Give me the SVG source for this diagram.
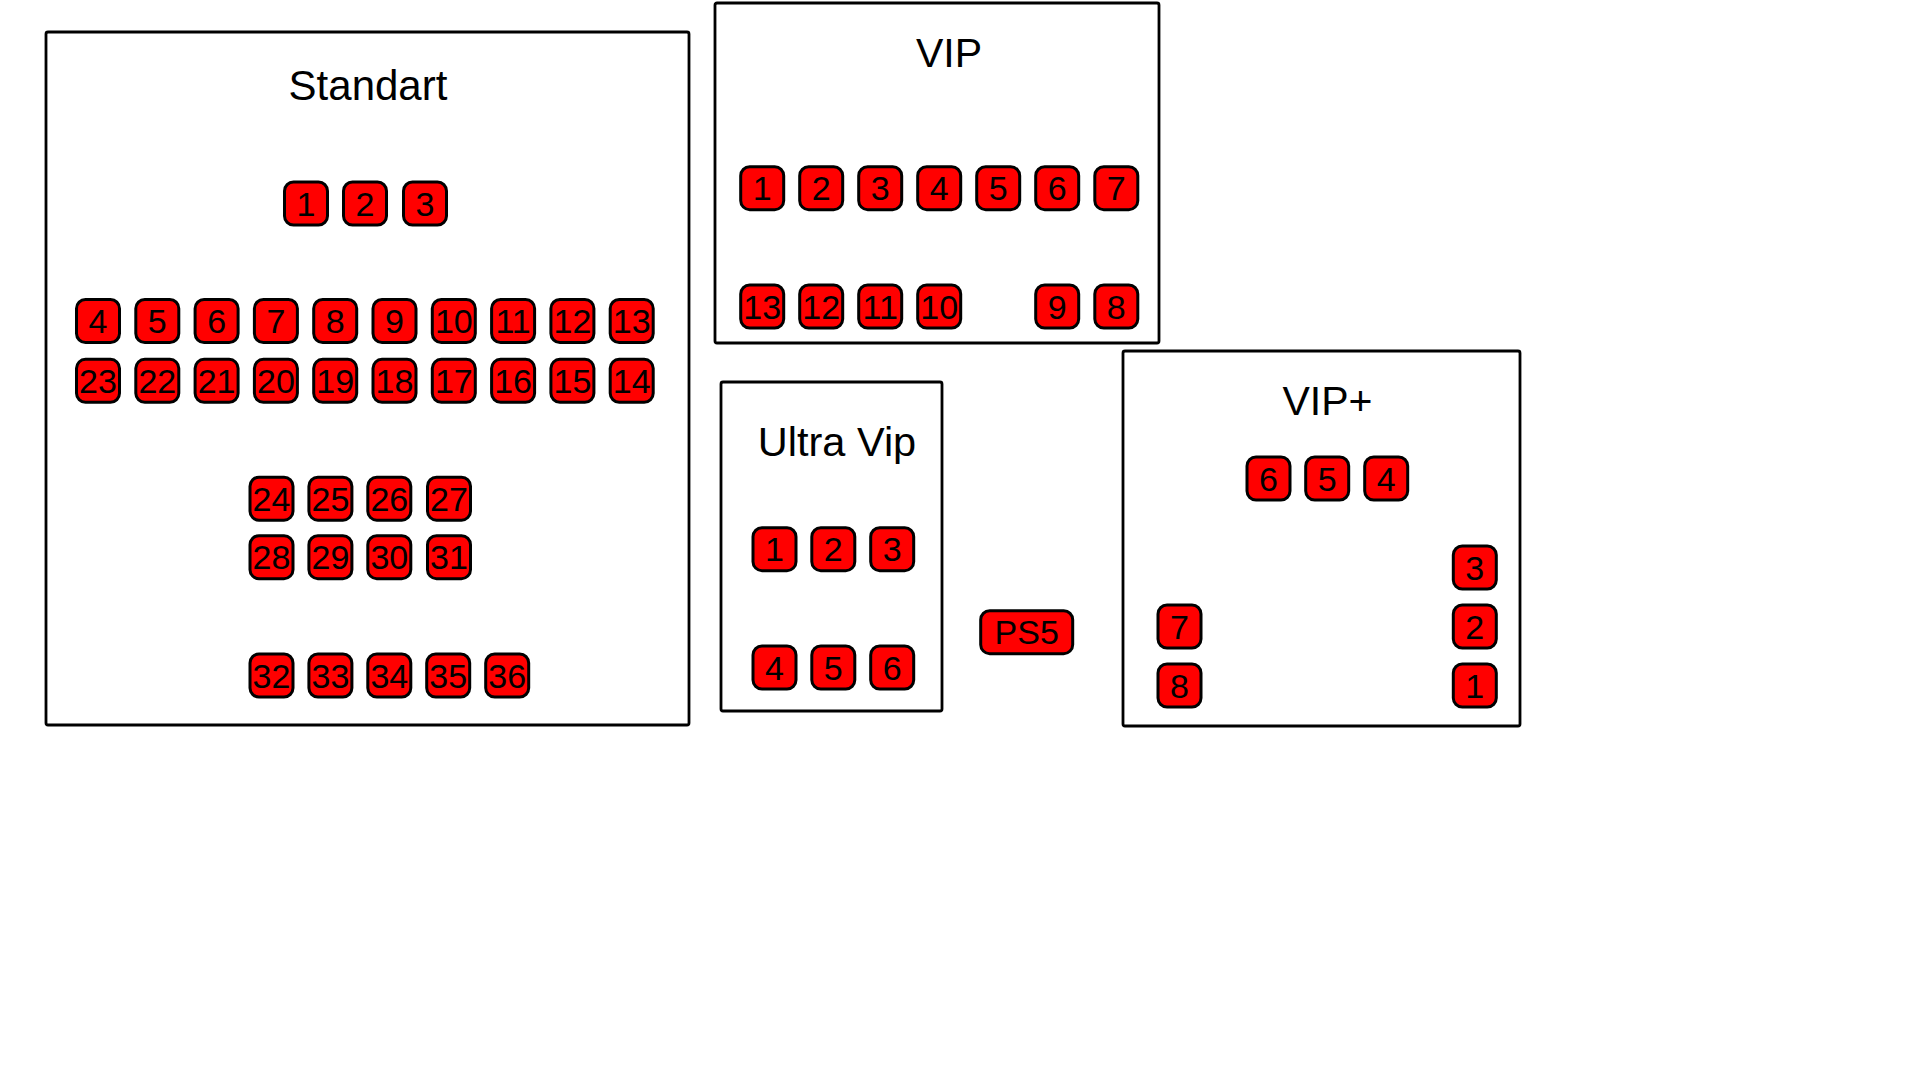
<svg xmlns="http://www.w3.org/2000/svg" width="1920" height="1080" viewBox="0 0 1920 1080">
<style>
.zone{fill:#fff;stroke:#000;stroke-width:2.8}
.title{font-family:"Liberation Sans",Arial,sans-serif;font-size:41px;text-anchor:middle;fill:#000}
.seat rect{fill:#f00;stroke:#000;stroke-width:3}
.seat text{font-family:"Liberation Sans",Arial,sans-serif;font-size:34px;text-anchor:middle;fill:#000}
</style>
<rect width="1920" height="1080" fill="#fff"/>
<g id="zone-standart">
<rect class="zone" x="46" y="32" width="643" height="693" rx="2"/>
<text class="title" x="368" y="100" style="font-size:42px">Standart</text>
<g id="std-1" class="seat" transform="translate(306,203.5)"><rect x="-21.5" y="-21.5" width="43" height="43" rx="9"/><text y="12.2">1</text></g>
<g id="std-2" class="seat" transform="translate(365,203.5)"><rect x="-21.5" y="-21.5" width="43" height="43" rx="9"/><text y="12.2">2</text></g>
<g id="std-3" class="seat" transform="translate(425,203.5)"><rect x="-21.5" y="-21.5" width="43" height="43" rx="9"/><text y="12.2">3</text></g>
<g id="std-4" class="seat" transform="translate(98,321)"><rect x="-21.5" y="-21.5" width="43" height="43" rx="9"/><text y="12.2">4</text></g>
<g id="std-5" class="seat" transform="translate(157.3,321)"><rect x="-21.5" y="-21.5" width="43" height="43" rx="9"/><text y="12.2">5</text></g>
<g id="std-6" class="seat" transform="translate(216.6,321)"><rect x="-21.5" y="-21.5" width="43" height="43" rx="9"/><text y="12.2">6</text></g>
<g id="std-7" class="seat" transform="translate(275.9,321)"><rect x="-21.5" y="-21.5" width="43" height="43" rx="9"/><text y="12.2">7</text></g>
<g id="std-8" class="seat" transform="translate(335.2,321)"><rect x="-21.5" y="-21.5" width="43" height="43" rx="9"/><text y="12.2">8</text></g>
<g id="std-9" class="seat" transform="translate(394.5,321)"><rect x="-21.5" y="-21.5" width="43" height="43" rx="9"/><text y="12.2">9</text></g>
<g id="std-10" class="seat" transform="translate(453.8,321)"><rect x="-21.5" y="-21.5" width="43" height="43" rx="9"/><text y="12.2">10</text></g>
<g id="std-11" class="seat" transform="translate(513.1,321)"><rect x="-21.5" y="-21.5" width="43" height="43" rx="9"/><text y="12.2">11</text></g>
<g id="std-12" class="seat" transform="translate(572.4,321)"><rect x="-21.5" y="-21.5" width="43" height="43" rx="9"/><text y="12.2">12</text></g>
<g id="std-13" class="seat" transform="translate(631.7,321)"><rect x="-21.5" y="-21.5" width="43" height="43" rx="9"/><text y="12.2">13</text></g>
<g id="std-23" class="seat" transform="translate(98,380.8)"><rect x="-21.5" y="-21.5" width="43" height="43" rx="9"/><text y="12.2">23</text></g>
<g id="std-22" class="seat" transform="translate(157.3,380.8)"><rect x="-21.5" y="-21.5" width="43" height="43" rx="9"/><text y="12.2">22</text></g>
<g id="std-21" class="seat" transform="translate(216.6,380.8)"><rect x="-21.5" y="-21.5" width="43" height="43" rx="9"/><text y="12.2">21</text></g>
<g id="std-20" class="seat" transform="translate(275.9,380.8)"><rect x="-21.5" y="-21.5" width="43" height="43" rx="9"/><text y="12.2">20</text></g>
<g id="std-19" class="seat" transform="translate(335.2,380.8)"><rect x="-21.5" y="-21.5" width="43" height="43" rx="9"/><text y="12.2">19</text></g>
<g id="std-18" class="seat" transform="translate(394.5,380.8)"><rect x="-21.5" y="-21.5" width="43" height="43" rx="9"/><text y="12.2">18</text></g>
<g id="std-17" class="seat" transform="translate(453.8,380.8)"><rect x="-21.5" y="-21.5" width="43" height="43" rx="9"/><text y="12.2">17</text></g>
<g id="std-16" class="seat" transform="translate(513.1,380.8)"><rect x="-21.5" y="-21.5" width="43" height="43" rx="9"/><text y="12.2">16</text></g>
<g id="std-15" class="seat" transform="translate(572.4,380.8)"><rect x="-21.5" y="-21.5" width="43" height="43" rx="9"/><text y="12.2">15</text></g>
<g id="std-14" class="seat" transform="translate(631.7,380.8)"><rect x="-21.5" y="-21.5" width="43" height="43" rx="9"/><text y="12.2">14</text></g>
<g id="std-24" class="seat" transform="translate(271.5,498.7)"><rect x="-21.5" y="-21.5" width="43" height="43" rx="9"/><text y="12.2">24</text></g>
<g id="std-25" class="seat" transform="translate(330.4,498.7)"><rect x="-21.5" y="-21.5" width="43" height="43" rx="9"/><text y="12.2">25</text></g>
<g id="std-26" class="seat" transform="translate(389.3,498.7)"><rect x="-21.5" y="-21.5" width="43" height="43" rx="9"/><text y="12.2">26</text></g>
<g id="std-27" class="seat" transform="translate(449,498.7)"><rect x="-21.5" y="-21.5" width="43" height="43" rx="9"/><text y="12.2">27</text></g>
<g id="std-28" class="seat" transform="translate(271.5,557.2)"><rect x="-21.5" y="-21.5" width="43" height="43" rx="9"/><text y="12.2">28</text></g>
<g id="std-29" class="seat" transform="translate(330.4,557.2)"><rect x="-21.5" y="-21.5" width="43" height="43" rx="9"/><text y="12.2">29</text></g>
<g id="std-30" class="seat" transform="translate(389.3,557.2)"><rect x="-21.5" y="-21.5" width="43" height="43" rx="9"/><text y="12.2">30</text></g>
<g id="std-31" class="seat" transform="translate(449,557.2)"><rect x="-21.5" y="-21.5" width="43" height="43" rx="9"/><text y="12.2">31</text></g>
<g id="std-32" class="seat" transform="translate(271.5,675.5)"><rect x="-21.5" y="-21.5" width="43" height="43" rx="9"/><text y="12.2">32</text></g>
<g id="std-33" class="seat" transform="translate(330.4,675.5)"><rect x="-21.5" y="-21.5" width="43" height="43" rx="9"/><text y="12.2">33</text></g>
<g id="std-34" class="seat" transform="translate(389.3,675.5)"><rect x="-21.5" y="-21.5" width="43" height="43" rx="9"/><text y="12.2">34</text></g>
<g id="std-35" class="seat" transform="translate(448.2,675.5)"><rect x="-21.5" y="-21.5" width="43" height="43" rx="9"/><text y="12.2">35</text></g>
<g id="std-36" class="seat" transform="translate(507.2,675.5)"><rect x="-21.5" y="-21.5" width="43" height="43" rx="9"/><text y="12.2">36</text></g>
</g>
<g id="zone-vip">
<rect class="zone" x="715" y="3" width="444" height="340" rx="2"/>
<text class="title" x="949" y="67">VIP</text>
<g id="vip-1" class="seat" transform="translate(762.2,188.2)"><rect x="-21.5" y="-21.5" width="43" height="43" rx="9"/><text y="12.2">1</text></g>
<g id="vip-2" class="seat" transform="translate(821.2,188.2)"><rect x="-21.5" y="-21.5" width="43" height="43" rx="9"/><text y="12.2">2</text></g>
<g id="vip-3" class="seat" transform="translate(880.2,188.2)"><rect x="-21.5" y="-21.5" width="43" height="43" rx="9"/><text y="12.2">3</text></g>
<g id="vip-4" class="seat" transform="translate(939.2,188.2)"><rect x="-21.5" y="-21.5" width="43" height="43" rx="9"/><text y="12.2">4</text></g>
<g id="vip-5" class="seat" transform="translate(998.2,188.2)"><rect x="-21.5" y="-21.5" width="43" height="43" rx="9"/><text y="12.2">5</text></g>
<g id="vip-6" class="seat" transform="translate(1057.2,188.2)"><rect x="-21.5" y="-21.5" width="43" height="43" rx="9"/><text y="12.2">6</text></g>
<g id="vip-7" class="seat" transform="translate(1116.3,188.2)"><rect x="-21.5" y="-21.5" width="43" height="43" rx="9"/><text y="12.2">7</text></g>
<g id="vip-13" class="seat" transform="translate(762.2,306.5)"><rect x="-21.5" y="-21.5" width="43" height="43" rx="9"/><text y="12.2">13</text></g>
<g id="vip-12" class="seat" transform="translate(821.2,306.5)"><rect x="-21.5" y="-21.5" width="43" height="43" rx="9"/><text y="12.2">12</text></g>
<g id="vip-11" class="seat" transform="translate(880.2,306.5)"><rect x="-21.5" y="-21.5" width="43" height="43" rx="9"/><text y="12.2">11</text></g>
<g id="vip-10" class="seat" transform="translate(939.2,306.5)"><rect x="-21.5" y="-21.5" width="43" height="43" rx="9"/><text y="12.2">10</text></g>
<g id="vip-9" class="seat" transform="translate(1057.2,306.5)"><rect x="-21.5" y="-21.5" width="43" height="43" rx="9"/><text y="12.2">9</text></g>
<g id="vip-8" class="seat" transform="translate(1116.3,306.5)"><rect x="-21.5" y="-21.5" width="43" height="43" rx="9"/><text y="12.2">8</text></g>
</g>
<g id="zone-ultra-vip">
<rect class="zone" x="721" y="382" width="221" height="329" rx="2"/>
<text class="title" x="837" y="456" style="font-size:41.5px">Ultra Vip</text>
<g id="uv-1" class="seat" transform="translate(774.5,549.2)"><rect x="-21.5" y="-21.5" width="43" height="43" rx="9"/><text y="12.2">1</text></g>
<g id="uv-2" class="seat" transform="translate(833.3,549.2)"><rect x="-21.5" y="-21.5" width="43" height="43" rx="9"/><text y="12.2">2</text></g>
<g id="uv-3" class="seat" transform="translate(892.2,549.2)"><rect x="-21.5" y="-21.5" width="43" height="43" rx="9"/><text y="12.2">3</text></g>
<g id="uv-4" class="seat" transform="translate(774.5,667.5)"><rect x="-21.5" y="-21.5" width="43" height="43" rx="9"/><text y="12.2">4</text></g>
<g id="uv-5" class="seat" transform="translate(833.3,667.5)"><rect x="-21.5" y="-21.5" width="43" height="43" rx="9"/><text y="12.2">5</text></g>
<g id="uv-6" class="seat" transform="translate(892.2,667.5)"><rect x="-21.5" y="-21.5" width="43" height="43" rx="9"/><text y="12.2">6</text></g>
</g>
<g id="ps5" class="seat" transform="translate(1026.7,632.2)"><rect x="-46" y="-21.5" width="92" height="43" rx="9"/><text y="12.2">PS5</text></g>
<g id="zone-vip-plus">
<rect class="zone" x="1123" y="351" width="397" height="375" rx="2"/>
<text class="title" x="1327.5" y="415">VIP+</text>
<g id="vp-6" class="seat" transform="translate(1268.5,478.5)"><rect x="-21.5" y="-21.5" width="43" height="43" rx="9"/><text y="12.2">6</text></g>
<g id="vp-5" class="seat" transform="translate(1327.2,478.5)"><rect x="-21.5" y="-21.5" width="43" height="43" rx="9"/><text y="12.2">5</text></g>
<g id="vp-4" class="seat" transform="translate(1386.2,478.5)"><rect x="-21.5" y="-21.5" width="43" height="43" rx="9"/><text y="12.2">4</text></g>
<g id="vp-3" class="seat" transform="translate(1474.8,567.5)"><rect x="-21.5" y="-21.5" width="43" height="43" rx="9"/><text y="12.2">3</text></g>
<g id="vp-2" class="seat" transform="translate(1474.8,626.5)"><rect x="-21.5" y="-21.5" width="43" height="43" rx="9"/><text y="12.2">2</text></g>
<g id="vp-1" class="seat" transform="translate(1474.8,685.5)"><rect x="-21.5" y="-21.5" width="43" height="43" rx="9"/><text y="12.2">1</text></g>
<g id="vp-7" class="seat" transform="translate(1179.5,626.5)"><rect x="-21.5" y="-21.5" width="43" height="43" rx="9"/><text y="12.2">7</text></g>
<g id="vp-8" class="seat" transform="translate(1179.5,685.5)"><rect x="-21.5" y="-21.5" width="43" height="43" rx="9"/><text y="12.2">8</text></g>
</g>
</svg>
